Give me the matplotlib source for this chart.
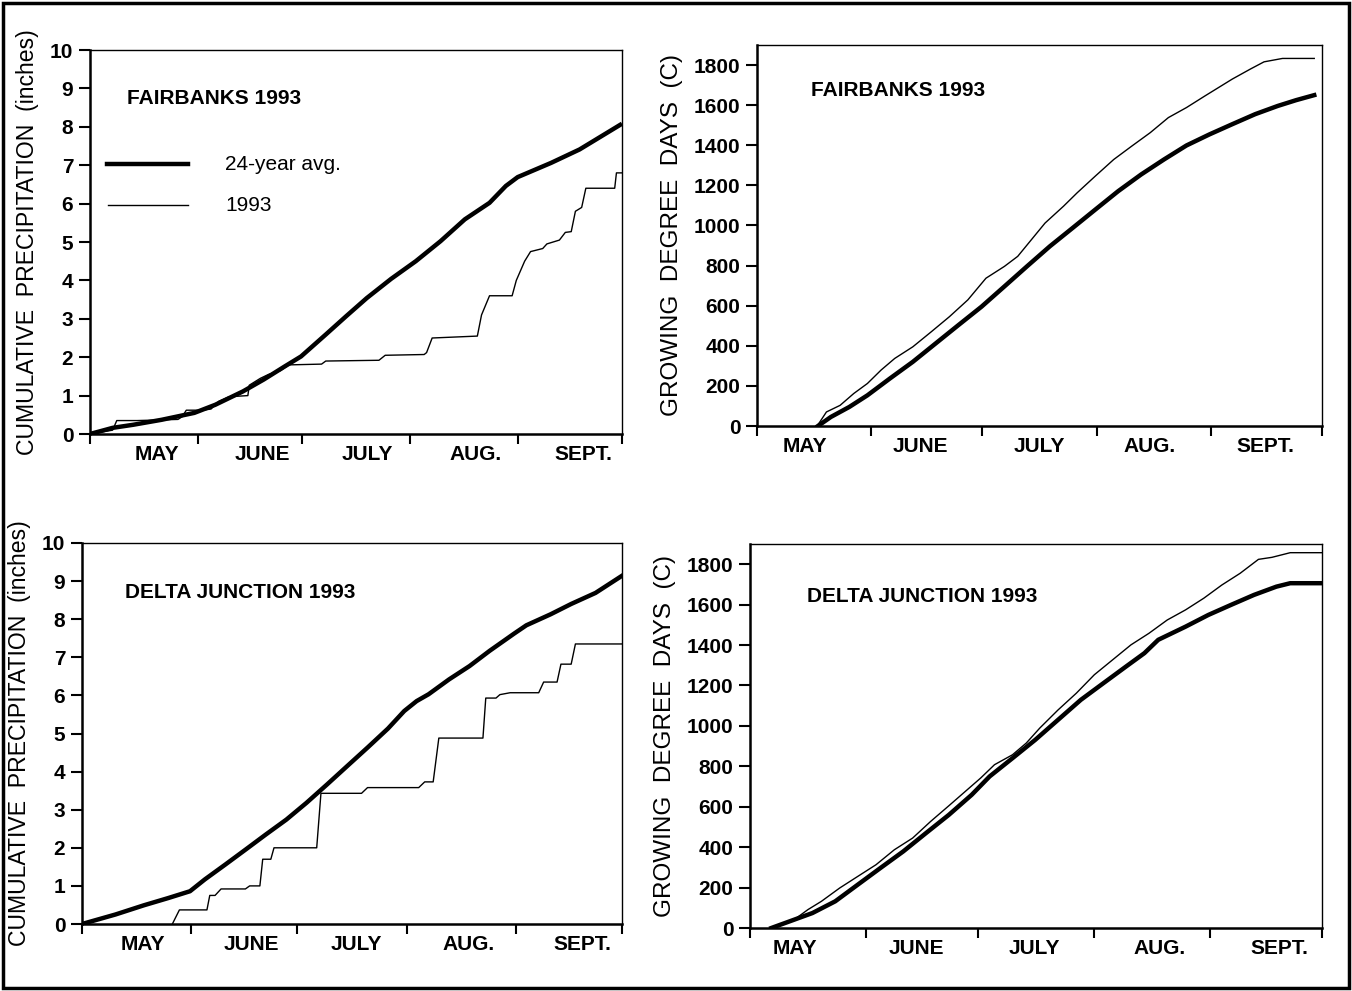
import numpy as np
import matplotlib
matplotlib.use("Agg")
import matplotlib.pyplot as plt
from matplotlib import font_manager
from matplotlib.patches import Rectangle

# x = days since May 1 (Oct 1 = 153)
month_edges = [0, 31, 61, 92, 123, 153]
month_names = ['MAY', 'JUNE', 'JULY', 'AUG.', 'SEPT.']

# Fairbanks precipitation (inches)
fbk_avg_day = [0, 6.5, 12.4, 20.6, 30, 36, 44, 50, 56, 60.7, 67.8, 73.7, 79.6, 86.6,
               93.7, 100.8, 107.8, 114.9, 119.6, 123, 132.6, 140.8, 153]
fbk_avg_pcp = [0, 0.16, 0.24, 0.37, 0.55, 0.76, 1.11, 1.42, 1.76, 2.02, 2.59, 3.07, 3.54, 4.04,
               4.5, 5.02, 5.59, 6.02, 6.46, 6.69, 7.06, 7.41, 8.08]
fbk_93_day = [0, 6.5, 7.7, 13.6, 25.3, 26.5, 27.7, 32.4, 34.8, 37, 40, 45.4, 45.8, 49, 51.3,
              54.8, 57.2, 66.6, 67.8, 83.1, 84.9, 96.1, 96.8, 98.4, 111.4, 112.6, 114.9, 121.4,
              122.6, 125, 126.7, 130.2, 131.4, 135, 136.7, 138.4, 139.6, 141.4, 142.6, 150.9,
              151.4, 153]
fbk_93_pcp = [0, 0.1, 0.35, 0.35, 0.38, 0.45, 0.62, 0.62, 0.65, 0.85, 0.97, 1.0, 1.27, 1.45, 1.55,
              1.65, 1.8, 1.82, 1.9, 1.92, 2.05, 2.07, 2.12, 2.5, 2.55, 3.1, 3.6, 3.6,
              4.0, 4.5, 4.75, 4.83, 4.95, 5.05, 5.25, 5.27, 5.8, 5.9, 6.4, 6.4,
              6.8, 6.8]

# Fairbanks growing degree days (C)
fbk_avg_gdd_day = [16.5, 20, 25, 29.9, 36, 42.2, 48.4, 54.6, 60.8, 67, 73.1, 79.3, 85.5, 91.6,
                   97.8, 104, 110.2, 116.3, 122.5, 128.7, 134.9, 141, 146, 150.9]
fbk_avg_gdd = [0, 45, 95, 153, 237, 320, 412, 504, 595, 696, 796, 896, 988, 1079,
               1171, 1254, 1329, 1399, 1454, 1505, 1555, 1596, 1625, 1650]
fbk_93_gdd_day = [16.3, 18.8, 22.5, 26.2, 29.9, 33.6, 37.3, 42.2, 47.2, 52.1, 57.1, 62, 67, 70.6,
                  74.3, 78, 83, 86.7, 91.6, 96.6, 101.5, 106.5, 111.4, 116.3, 121.3, 128.7,
                  133.6, 137.3, 142.3, 150.9]
fbk_93_gdd = [0, 70, 103, 162, 212, 279, 337, 395, 470, 545, 629, 737, 796, 846,
              929, 1012, 1096, 1163, 1246, 1329, 1396, 1463, 1538, 1588, 1646, 1730,
              1780, 1816, 1833, 1833]

# Delta Junction precipitation (inches)
dj_avg_day = [0, 9.5, 17.5, 24.4, 30.6, 34.8, 40.6, 46.3, 52.1, 57.9, 63.6, 69.4, 75.2, 80.9,
              86.7, 91.3, 94.8, 98.2, 104, 109.8, 115.5, 122.4, 125.9, 132.8, 138.6, 145.5, 153]
dj_avg_pcp = [0, 0.25, 0.49, 0.68, 0.86, 1.17, 1.56, 1.95, 2.35, 2.74, 3.18, 3.66, 4.15, 4.63,
              5.13, 5.59, 5.85, 6.03, 6.42, 6.77, 7.17, 7.62, 7.84, 8.13, 8.4, 8.69, 9.14]
dj_93_day = [25.6, 27.6, 35.4, 36.2, 37.7, 39.4, 46.3, 47.5, 50.4, 51.2, 53.5, 54.4, 66.5,
             67.7, 79.2, 80.9, 95.4, 97.1, 99.5, 101.1, 113.6, 114.4, 117.3, 118.4, 121.3,
             129.4, 130.8, 134.6, 135.7, 138.6, 139.8, 153]
dj_93_pcp = [0, 0.37, 0.37, 0.75, 0.75, 0.92, 0.92, 1.0, 1.0, 1.7, 1.7, 2.0, 2.0,
             3.43, 3.43, 3.58, 3.58, 3.73, 3.73, 4.88, 4.88, 5.93, 5.93, 6.02, 6.07,
             6.07, 6.35, 6.35, 6.82, 6.82, 7.35, 7.35]

# Delta Junction growing degree days (C)
dj_avg_gdd_day = [5.7, 11.8, 16.7, 22.8, 28.8, 34.9, 41, 47.1, 53.2, 59.3, 64.1, 70.2, 76.3,
                  82.4, 88.5, 94.5, 100.6, 105.5, 109.2, 116.5, 122.6, 128.7, 134.8, 140.8,
                  144.5, 153]
dj_avg_gdd = [0, 41, 74, 132, 214, 297, 379, 470, 560, 659, 750, 840, 931,
              1030, 1129, 1211, 1294, 1360, 1426, 1491, 1549, 1599, 1648, 1689,
              1706, 1706]
dj_93_gdd_day = [5.7, 11.8, 15.5, 19.1, 24, 28.8, 33.7, 38.6, 43.5, 48.3, 53.2, 58.1, 61.7,
                 65.4, 70.2, 73.9, 77.5, 82.4, 87.3, 92.1, 97, 101.9, 106.7, 111.6, 116.5,
                 121.4, 126.2, 131.1, 136, 139.6, 144.5, 153]
dj_93_gdd = [0, 41, 91, 132, 198, 255, 313, 387, 445, 527, 605, 684, 742,
             808, 857, 915, 989, 1079, 1162, 1253, 1327, 1401, 1458, 1524, 1574,
             1632, 1697, 1755, 1824, 1834, 1857, 1857]

names = {f.name for f in font_manager.fontManager.ttflist}
fam = 'Liberation Sans Narrow' if 'Liberation Sans Narrow' in names else 'Liberation Sans'
plt.rcParams['font.family'] = [fam, 'DejaVu Sans']

fig = plt.figure(figsize=(13.52, 9.91), dpi=100)
W, H = 1352.0, 991.0


def make_ax(l, r, t, b):
    return fig.add_axes([l / W, 1 - b / H, (r - l) / W, (b - t) / H])


def style(ax, ymax, yticks, ylabel, ylsize, title, tx, ty, lab_shift):
    ax.set_xlim(0, 153)
    ax.set_ylim(0, ymax)
    ax.set_xticks(month_edges)
    ax.set_xticklabels([])
    mids = [(month_edges[i] + month_edges[i + 1]) / 2 + lab_shift[i] for i in range(5)]
    ax.set_xticks(mids, minor=True)
    ax.set_xticklabels(month_names, minor=True, fontsize=15, fontweight='bold')
    ax.tick_params(axis='x', which='minor', length=0, pad=8)
    ax.tick_params(axis='x', which='major', direction='out', length=7, width=1.5)
    ax.set_yticks(yticks)
    ax.set_yticklabels([str(v) for v in yticks], fontsize=15, fontweight='bold')
    ax.tick_params(axis='y', direction='out', length=8, width=1.5, pad=4)
    for s in ['left', 'bottom']:
        ax.spines[s].set_linewidth(1.8)
    for s in ['top', 'right']:
        ax.spines[s].set_linewidth(1.0)
    ax.set_ylabel(ylabel, fontsize=ylsize, labelpad=8)
    ax.text(tx, ty, title, transform=ax.transAxes, fontsize=15, fontweight='bold')


pcp_ticks = list(range(0, 11))
gdd_ticks = list(range(0, 1801, 200))
pcp_label = 'CUMULATIVE  PRECIPITATION  (inches)'
gdd_label = 'GROWING  DEGREE  DAYS  (C)'

ax1 = make_ax(90, 622, 50, 434)
ax1.plot(fbk_avg_day, fbk_avg_pcp, color='black', lw=3.2, solid_capstyle='butt')
ax1.plot(fbk_93_day, fbk_93_pcp, color='black', lw=1.0)
style(ax1, 10, pcp_ticks, pcp_label, 16.6, 'FAIRBANKS 1993', 0.07, 0.86,
      [3.7, 3.7, 3.2, 3.5, 3.8])
ax1.plot([0.032, 0.184], [0.703, 0.703], transform=ax1.transAxes, color='black', lw=3.2)
ax1.plot([0.034, 0.184], [0.596, 0.596], transform=ax1.transAxes, color='black', lw=1.0)
ax1.text(0.254, 0.703, '24-year avg.', transform=ax1.transAxes, fontsize=15, va='center')
ax1.text(0.254, 0.596, '1993', transform=ax1.transAxes, fontsize=15, va='center')

ax2 = make_ax(757, 1322, 45, 426)
ax2.plot(fbk_avg_gdd_day, fbk_avg_gdd, color='black', lw=3.2)
ax2.plot(fbk_93_gdd_day, fbk_93_gdd, color='black', lw=1.0)
style(ax2, 1900, gdd_ticks, gdd_label, 17.5, 'FAIRBANKS 1993', 0.095, 0.865,
      [-2.6, -1.8, 0, -1.3, -0.3])

ax3 = make_ax(82, 622, 543, 924)
ax3.plot(dj_avg_day, dj_avg_pcp, color='black', lw=3.2)
ax3.plot(dj_93_day, dj_93_pcp, color='black', lw=1.0)
style(ax3, 10, pcp_ticks, pcp_label, 16.6, 'DELTA JUNCTION 1993', 0.08, 0.855,
      [1.8, 2.0, 1.2, 2.0, 3.8])

ax4 = make_ax(750, 1322, 544, 928)
ax4.plot(dj_avg_gdd_day, dj_avg_gdd, color='black', lw=3.2)
ax4.plot(dj_93_gdd_day, dj_93_gdd, color='black', lw=1.0)
style(ax4, 1900, gdd_ticks, gdd_label, 17.5, 'DELTA JUNCTION 1993', 0.1, 0.85,
      [-3.4, -1.4, -0.5, 2.0, 3.7])

fig.add_artist(Rectangle((0.002, 0.003), 0.996, 0.994, transform=fig.transFigure,
                         fill=False, edgecolor='black', lw=2.5))

fig.savefig('out.png', dpi=100)
